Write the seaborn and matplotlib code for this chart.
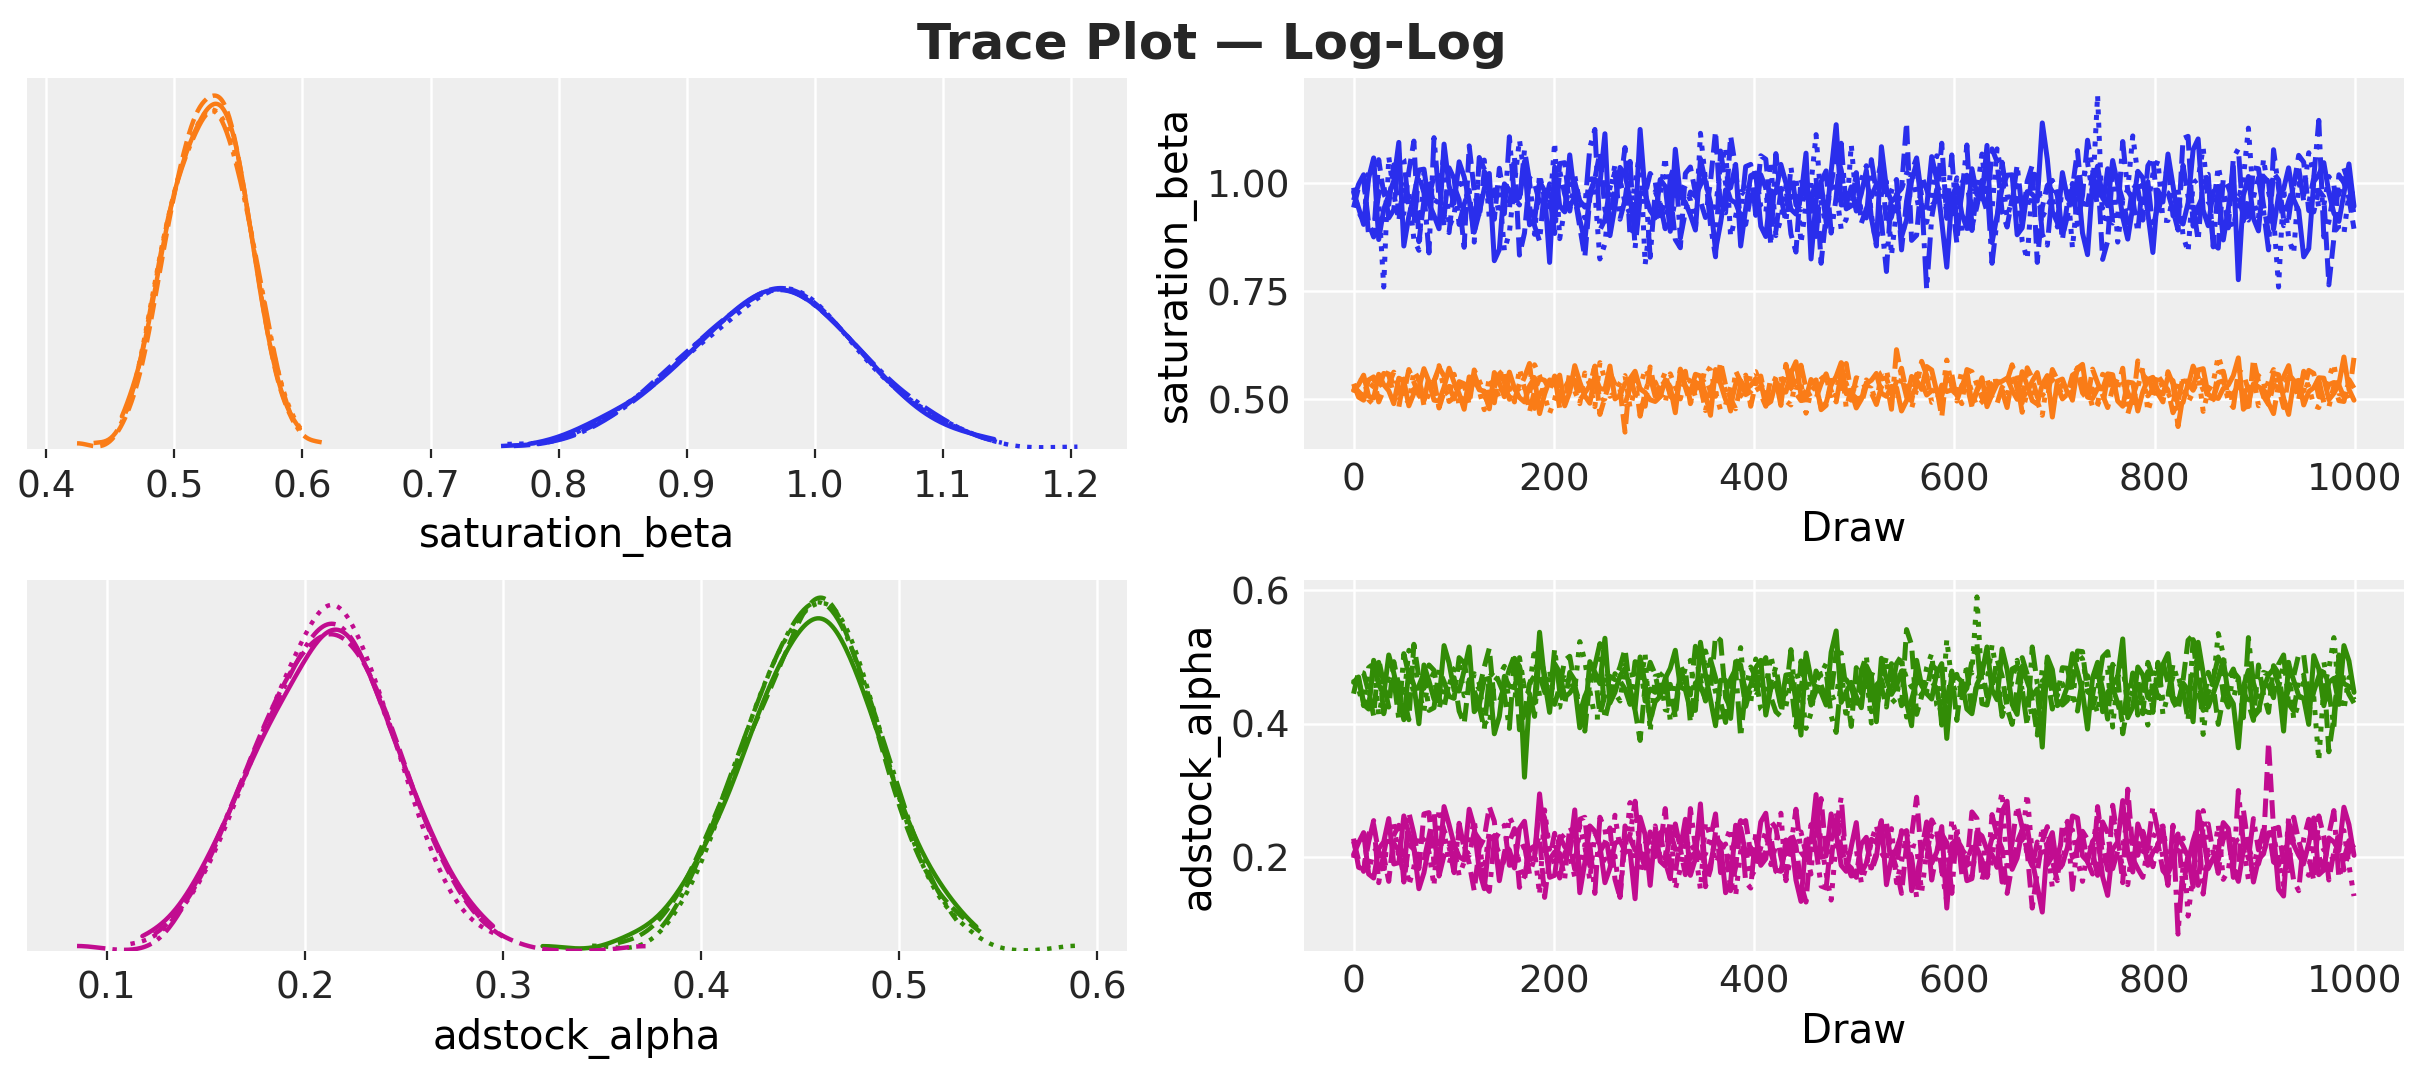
import numpy as np
import pandas as pd
import matplotlib
matplotlib.use("Agg")
import matplotlib.pyplot as plt
from matplotlib.ticker import MultipleLocator
import seaborn as sns

# ---------------- data (thinned posterior draws, in thousandths) ----------------
# saturation_beta, channel 1 (blue), chains 1-4
sb_blue_1 = [980, 943, 905, 1012, 1059, 870, 940, 973, 1006, 1095, 855, 924, 971, 1031, 1033, 953, 926, 895, 1091, 994,
             954, 1050, 1015, 960, 887, 932, 988, 1023, 821, 847, 999, 985, 961, 967, 1051, 904, 915, 1004, 983, 817,
             1038, 948, 934, 1066, 968, 916, 866, 979, 1010, 998, 1115, 879, 947, 1037, 1021, 962, 899, 1125, 975, 937,
             920, 1009, 993, 889, 1079, 971, 956, 927, 892, 1057, 1004, 956, 845, 908, 985, 990, 1044, 855, 942, 1018,
             1024, 901, 877, 983, 978, 1044, 1001, 940, 929, 968, 1070, 825, 962, 1001, 910, 1027, 1136, 950, 951, 992,
             936, 976, 1030, 920, 859, 1085, 989, 958, 970, 876, 916, 1006, 1048, 944, 945, 1062, 1009, 912, 806, 969,
             996, 929, 896, 1034, 974, 964, 1088, 863, 925, 989, 1019, 1020, 881, 897, 981, 975, 959, 1140, 1056, 935,
             909, 1025, 966, 952, 1013, 885, 835, 1000, 1040, 966, 949, 1053, 998, 922, 871, 946, 1028, 1013, 931, 840,
             984, 957, 1068, 995, 917, 906, 955, 1078, 1103, 938, 902, 981, 991, 869, 941, 1039, 777, 972, 1016, 919,
             890, 1016, 1003, 894, 973, 987, 1036, 963, 937, 830, 849, 1004, 1020, 1048, 979, 931, 912, 977, 1045, 947]
sb_blue_2 = [944, 991, 1009, 907, 876, 1055, 976, 951, 1043, 928, 930, 1028, 1098, 865, 960, 970, 1016, 1006, 900, 886,
             994, 962, 852, 1087, 983, 919, 1028, 982, 917, 1035, 964, 941, 1063, 834, 885, 1013, 1000, 956, 950, 999,
             911, 1046, 1048, 946, 969, 899, 829, 967, 1011, 1072, 939, 913, 989, 994, 1083, 877, 894, 978, 974, 1023,
             1004, 925, 957, 980, 870, 851, 1023, 1038, 979, 959, 921, 1004, 1121, 937, 932, 1110, 1036, 904, 905, 973,
             947, 1064, 1056, 930, 889, 985, 990, 883, 841, 1009, 968, 954, 1014, 815, 927, 996, 1073, 1031, 955, 942,
             1025, 908, 941, 969, 998, 1051, 904, 922, 975, 988, 1141, 868, 880, 1017, 986, 949, 961, 1093, 919, 964,
             862, 1002, 1019, 891, 981, 975, 935, 1080, 1050, 935, 899, 966, 965, 906, 1005, 1042, 817, 945, 995, 1007,
             971, 877, 924, 990, 1076, 953, 951, 1020, 1030, 824, 866, 1032, 1001, 961, 909, 997, 988, 915, 1041, 1060,
             931, 983, 978, 938, 892, 1104, 1109, 901, 946, 972, 1010, 860, 850, 1011, 991, 957, 970, 926, 915, 1036,
             1034, 950, 886, 1025, 1008, 918, 959, 993, 1065, 1049, 937, 934, 984, 968, 765, 873, 1020, 1001, 966, 895]
sb_blue_3 = [990, 934, 912, 1029, 1038, 957, 760, 1062, 976, 913, 1006, 979, 870, 845, 1025, 1003, 949, 968, 1074, 898,
             927, 1014, 984, 963, 896, 1048, 1054, 920, 960, 986, 844, 887, 998, 1101, 1014, 948, 882, 1021, 966, 936,
             1095, 872, 941, 995, 1018, 954, 920, 1025, 980, 825, 860, 974, 1044, 1009, 955, 929, 1001, 1077, 812, 910,
             906, 972, 1061, 902, 962, 993, 988, 961, 890, 1116, 1009, 941, 946, 1036, 1084, 877, 924, 981, 973, 1005,
             1031, 946, 932, 1050, 879, 917, 993, 967, 1015, 861, 951, 999, 1113, 956, 900, 1024, 983, 894, 917, 1090,
             956, 1008, 1041, 928, 855, 975, 1004, 833, 940, 987, 1023, 1033, 969, 909, 910, 966, 1064, 1055, 934, 951,
             1013, 890, 885, 983, 979, 1068, 964, 938, 1080, 1016, 921, 964, 995, 866, 824, 998, 1028, 922, 945, 971,
             899, 991, 999, 850, 974, 1004, 1048, 976, 1205, 905, 929, 1044, 864, 960, 986, 1110, 1020, 931, 952, 1022,
             1053, 915, 914, 970, 989, 879, 841, 1001, 1010, 1083, 957, 944, 1039, 980, 936, 897, 961, 1012, 1128, 962,
             919, 1057, 981, 925, 760, 989, 874, 837, 1000, 973, 1071, 1026, 942, 949, 1016, 996, 892, 883, 978, 984]
sb_blue_4 = [961, 998, 1020, 878, 891, 977, 996, 920, 939, 1071, 1055, 945, 907, 1019, 978, 839, 1106, 967, 922, 1036,
             1011, 905, 952, 984, 864, 1060, 1033, 958, 985, 927, 930, 1108, 965, 950, 1078, 1005, 902, 866, 991, 973,
             884, 1029, 975, 936, 1003, 960, 945, 1083, 1125, 892, 916, 990, 1026, 917, 962, 1051, 850, 966, 1008, 829,
             981, 953, 895, 1012, 1049, 873, 934, 980, 970, 996, 1018, 904, 830, 1075, 999, 962, 955, 924, 1039, 1044,
             926, 1020, 989, 857, 1069, 971, 910, 1038, 950, 939, 995, 963, 877, 1004, 1029, 885, 968, 1093, 941, 948,
             1023, 931, 920, 1055, 979, 912, 796, 983, 1009, 846, 959, 1027, 1059, 969, 755, 921, 986, 992, 931, 1066,
             900, 975, 1089, 899, 947, 1007, 1001, 815, 914, 1049, 973, 956, 1043, 934, 936, 1022, 1015, 882, 857, 986,
             994, 869, 956, 1000, 905, 972, 1100, 1031, 942, 943, 1034, 908, 924, 1097, 983, 964, 887, 1010, 1004, 895,
             951, 988, 1046, 925, 929, 1042, 969, 951, 867, 1016, 1021, 853, 993, 978, 897, 1059, 1080, 913, 964, 968,
             1013, 937, 846, 1078, 988, 902, 919, 1002, 1036, 959, 954, 1013, 1146, 876, 911, 981, 974, 1035, 998, 928]

# saturation_beta, channel 2 (orange), chains 1-4
sb_orange_1 = [521, 534, 556, 507, 503, 558, 534, 520, 490, 549, 543, 485, 514, 527, 571, 541, 498, 496, 528, 572,
               539, 513, 477, 552, 547, 522, 519, 478, 562, 538, 506, 563, 526, 504, 494, 531, 550, 467, 512, 545,
               533, 556, 485, 517, 578, 540, 508, 491, 554, 525, 523, 577, 501, 509, 537, 548, 565, 524, 516, 499,
               495, 506, 545, 529, 469, 567, 531, 515, 558, 554, 510, 463, 569, 536, 499, 488, 535, 543, 524, 532,
               548, 539, 487, 495, 541, 526, 517, 561, 587, 510, 504, 546, 530, 481, 492, 533, 553, 585, 513, 519,
               480, 500, 538, 544, 560, 514, 507, 530, 527, 473, 497, 553, 544, 523, 576, 568, 518, 508, 551, 537,
               509, 528, 564, 489, 522, 550, 483, 511, 536, 542, 549, 521, 500, 564, 532, 497, 489, 535, 555, 459,
               542, 547, 515, 516, 572, 581, 505, 502, 525, 524, 559, 557, 496, 484, 540, 538, 473, 518, 546, 551,
               520, 512, 552, 543, 486, 493, 537, 531, 568, 571, 511, 505, 502, 525, 533, 555, 596, 477, 493, 536,
               529, 522, 508, 560, 557, 503, 465, 540, 544, 487, 518, 527, 550, 549, 499, 514, 535, 598, 523, 498]
sb_orange_2 = [531, 518, 506, 545, 552, 494, 522, 535, 563, 523, 513, 569, 540, 509, 495, 553, 546, 480, 517, 530,
               501, 541, 536, 502, 559, 526, 509, 487, 527, 559, 570, 516, 498, 537, 534, 471, 520, 548, 544, 521,
               554, 511, 489, 563, 538, 498, 515, 532, 577, 465, 504, 543, 529, 524, 424, 555, 511, 506, 484, 575,
               518, 529, 542, 514, 492, 551, 565, 490, 524, 539, 548, 519, 507, 587, 533, 501, 478, 534, 556, 484,
               537, 554, 499, 508, 528, 522, 561, 566, 514, 497, 521, 536, 545, 476, 486, 544, 539, 525, 583, 513,
               503, 489, 532, 531, 551, 547, 550, 512, 541, 572, 516, 496, 558, 540, 510, 520, 526, 459, 568, 558,
               496, 533, 535, 483, 519, 542, 547, 505, 490, 528, 543, 580, 523, 492, 573, 549, 505, 517, 553, 538,
               530, 501, 512, 556, 564, 515, 500, 570, 538, 510, 481, 525, 549, 546, 517, 486, 589, 561, 508, 524,
               555, 537, 522, 469, 494, 552, 536, 521, 544, 543, 502, 499, 562, 565, 513, 513, 532, 527, 470, 593,
               541, 507, 488, 534, 527, 481, 552, 550, 516, 519, 567, 560, 506, 504, 534, 539, 497, 495, 546, 526]
sb_orange_3 = [516, 540, 549, 499, 488, 531, 539, 565, 528, 516, 505, 492, 566, 546, 497, 523, 535, 578, 523, 508,
               558, 485, 511, 536, 544, 520, 476, 552, 532, 503, 553, 528, 494, 571, 525, 512, 580, 555, 508, 468,
               500, 544, 537, 524, 519, 490, 561, 533, 483, 585, 546, 507, 514, 538, 555, 481, 524, 526, 571, 550,
               540, 514, 492, 559, 529, 501, 551, 542, 506, 522, 575, 568, 517, 475, 487, 530, 543, 510, 501, 561,
               564, 532, 521, 506, 536, 553, 496, 487, 548, 537, 468, 519, 533, 547, 557, 495, 512, 590, 480, 524,
               527, 497, 545, 527, 490, 562, 568, 511, 509, 549, 538, 479, 522, 534, 552, 556, 499, 504, 591, 529,
               513, 567, 556, 515, 484, 494, 530, 541, 542, 521, 503, 576, 562, 502, 518, 525, 495, 463, 547, 545,
               534, 509, 507, 551, 573, 535, 524, 483, 489, 558, 550, 518, 539, 543, 498, 498, 528, 573, 472, 513,
               554, 526, 515, 491, 541, 548, 493, 516, 565, 472, 520, 539, 600, 563, 504, 505, 536, 531, 510, 554,
               485, 500, 543, 569, 523, 518, 559, 544, 502, 536, 531, 486, 481, 528, 551, 582, 513, 511, 538, 523]
sb_orange_4 = [536, 505, 498, 538, 529, 524, 560, 557, 509, 482, 547, 532, 520, 550, 486, 513, 542, 574, 554, 495,
               504, 528, 533, 488, 568, 543, 515, 517, 492, 566, 539, 500, 526, 525, 551, 583, 479, 510, 531, 535,
               557, 479, 512, 547, 544, 521, 522, 539, 575, 496, 501, 562, 535, 514, 489, 527, 548, 461, 517, 552,
               507, 534, 563, 507, 496, 570, 528, 491, 540, 531, 474, 523, 552, 555, 519, 473, 566, 541, 511, 518,
               532, 512, 484, 551, 546, 486, 581, 526, 514, 579, 525, 504, 502, 536, 559, 520, 494, 560, 537, 498,
               550, 545, 523, 515, 488, 529, 541, 477, 615, 553, 506, 509, 530, 588, 556, 493, 499, 533, 518, 522,
               510, 490, 569, 564, 534, 503, 495, 537, 549, 519, 481, 549, 538, 470, 516, 542, 562, 511, 503, 569,
               545, 530, 524, 498, 572, 556, 508, 524, 490, 485, 553, 540, 527, 572, 466, 506, 543, 546, 558, 516,
               513, 494, 564, 535, 437, 509, 531, 577, 551, 522, 505, 501, 539, 543, 497, 481, 567, 559, 521, 525,
               555, 539, 491, 467, 535, 552, 578, 513, 500, 565, 526, 524, 546, 492, 482, 531, 533, 505, 509, 596]

# adstock_alpha, channel 1 (green), chains 1-4
aa_green_1 = [462, 470, 429, 422, 495, 459, 443, 503, 476, 443, 406, 480, 458, 400, 488, 464, 437, 434, 517, 491,
              450, 449, 480, 515, 418, 428, 466, 468, 385, 411, 471, 456, 454, 485, 320, 439, 431, 537, 464, 417,
              490, 477, 440, 446, 457, 394, 408, 493, 477, 460, 528, 431, 447, 472, 483, 452, 423, 500, 460, 405,
              433, 441, 468, 483, 510, 455, 451, 420, 420, 522, 474, 436, 397, 465, 465, 408, 493, 488, 444, 458,
              484, 495, 413, 453, 461, 426, 473, 474, 438, 383, 506, 467, 453, 447, 428, 507, 539, 432, 448, 462,
              441, 424, 487, 471, 403, 498, 467, 444, 457, 479, 432, 397, 495, 457, 445, 437, 476, 490, 378, 466,
              470, 463, 422, 415, 459, 475, 515, 451, 436, 512, 481, 429, 414, 486, 463, 442, 452, 365, 500, 481,
              427, 435, 456, 505, 478, 448, 392, 469, 492, 418, 447, 458, 471, 527, 409, 425, 485, 473, 439, 454,
              464, 489, 505, 440, 432, 461, 450, 403, 522, 476, 425, 445, 468, 496, 443, 430, 364, 456, 480, 410,
              419, 452, 473, 482, 458, 389, 490, 465, 442, 438, 399, 502, 482, 427, 462, 468, 429, 517, 494, 447]
aa_green_2 = [445, 478, 476, 447, 412, 496, 460, 425, 493, 457, 438, 406, 519, 469, 453, 488, 480, 438, 424, 462,
              469, 419, 400, 466, 463, 452, 485, 513, 432, 433, 455, 482, 502, 391, 416, 460, 472, 473, 448, 443,
              429, 456, 495, 501, 457, 429, 389, 464, 477, 414, 442, 471, 466, 485, 512, 450, 420, 375, 459, 492,
              474, 437, 451, 459, 409, 480, 483, 402, 461, 467, 434, 448, 531, 525, 439, 423, 489, 475, 426, 453,
              447, 486, 499, 440, 418, 411, 467, 461, 395, 494, 456, 431, 479, 458, 437, 445, 507, 506, 450, 396,
              484, 446, 444, 474, 471, 455, 425, 490, 460, 427, 541, 518, 414, 441, 465, 463, 453, 408, 433, 479,
              405, 468, 481, 417, 463, 483, 441, 454, 496, 472, 423, 399, 455, 499, 474, 435, 383, 464, 470, 422,
              458, 428, 435, 461, 509, 508, 448, 442, 486, 451, 407, 489, 473, 385, 428, 476, 466, 415, 492, 470,
              439, 493, 461, 434, 420, 465, 525, 533, 446, 420, 477, 457, 399, 439, 468, 482, 457, 449, 431, 405,
              488, 444, 417, 487, 475, 426, 452, 471, 504, 503, 442, 452, 464, 477, 358, 410, 482, 460, 456, 436]
aa_green_3 = [467, 451, 427, 484, 490, 413, 449, 467, 458, 436, 436, 510, 501, 448, 419, 476, 472, 422, 454, 457,
              482, 491, 442, 444, 475, 461, 403, 397, 463, 472, 486, 429, 431, 499, 453, 454, 513, 440, 440, 480,
              425, 425, 469, 464, 451, 523, 494, 449, 410, 410, 478, 469, 446, 434, 488, 487, 454, 458, 504, 388,
              471, 473, 421, 419, 460, 456, 483, 495, 435, 442, 509, 479, 448, 405, 415, 462, 474, 514, 430, 432,
              497, 447, 452, 502, 466, 427, 426, 466, 479, 453, 393, 416, 464, 475, 490, 438, 441, 486, 407, 459,
              457, 481, 476, 401, 417, 470, 500, 431, 438, 492, 468, 455, 450, 443, 484, 505, 428, 418, 526, 463,
              443, 439, 488, 476, 590, 454, 461, 518, 473, 424, 432, 465, 495, 450, 447, 409, 422, 482, 478, 446,
              465, 460, 436, 430, 506, 497, 453, 441, 416, 474, 481, 395, 470, 488, 427, 452, 459, 435, 398, 468,
              486, 414, 444, 471, 472, 445, 420, 483, 498, 384, 449, 461, 535, 504, 433, 437, 467, 466, 439, 428,
              411, 477, 474, 453, 454, 490, 492, 407, 431, 464, 462, 440, 345, 455, 482, 529, 442, 421, 469, 472]
aa_green_4 = [459, 465, 433, 432, 484, 492, 415, 450, 468, 407, 505, 473, 446, 457, 476, 420, 424, 481, 463, 441,
              438, 499, 491, 454, 450, 426, 392, 470, 479, 461, 443, 393, 498, 486, 456, 445, 411, 507, 473, 435,
              512, 448, 429, 477, 465, 415, 441, 458, 487, 520, 407, 438, 475, 464, 452, 429, 493, 490, 434, 452,
              447, 472, 480, 404, 420, 483, 461, 443, 516, 456, 437, 496, 469, 433, 402, 467, 482, 380, 454, 485,
              470, 422, 416, 462, 485, 440, 445, 511, 430, 453, 499, 428, 449, 475, 477, 412, 387, 468, 466, 455,
              426, 479, 502, 418, 458, 466, 439, 449, 490, 502, 410, 436, 464, 459, 448, 488, 481, 398, 422, 471,
              474, 443, 453, 494, 521, 430, 428, 463, 467, 411, 435, 482, 486, 452, 397, 515, 460, 439, 496, 460,
              442, 484, 483, 446, 419, 469, 472, 424, 451, 500, 508, 454, 431, 402, 455, 474, 413, 457, 478, 417,
              492, 434, 440, 489, 463, 451, 405, 526, 476, 427, 446, 467, 500, 444, 425, 478, 469, 409, 529, 461,
              436, 458, 457, 439, 489, 503, 430, 419, 465, 473, 417, 448, 471, 493, 449, 395, 503, 464, 444, 431]

# adstock_alpha, channel 2 (magenta), chains 1-4
aa_pink_1 = [204, 222, 237, 175, 169, 213, 223, 258, 190, 192, 262, 236, 214, 153, 177, 217, 228, 186, 276, 249,
             219, 201, 196, 272, 245, 180, 153, 226, 232, 165, 207, 211, 184, 243, 254, 196, 200, 295, 225, 170,
             173, 231, 216, 206, 271, 147, 192, 247, 239, 218, 162, 184, 221, 225, 209, 209, 138, 260, 234, 158,
             241, 194, 187, 239, 212, 212, 257, 173, 198, 280, 175, 190, 229, 221, 147, 162, 248, 244, 205, 215,
             195, 253, 266, 207, 181, 179, 218, 229, 166, 134, 226, 223, 294, 200, 202, 265, 235, 188, 179, 216,
             252, 177, 191, 227, 222, 255, 159, 198, 213, 235, 240, 150, 171, 210, 231, 191, 208, 246, 124, 220,
             227, 214, 165, 168, 238, 232, 211, 204, 185, 269, 284, 182, 199, 241, 246, 195, 157, 118, 220, 237,
             180, 189, 215, 262, 259, 202, 194, 224, 233, 171, 143, 212, 223, 285, 206, 178, 250, 228, 188, 208,
             217, 245, 176, 193, 230, 217, 201, 156, 268, 233, 183, 199, 209, 252, 243, 183, 164, 210, 224, 163,
             197, 205, 236, 238, 152, 142, 253, 219, 203, 191, 221, 259, 174, 181, 229, 223, 210, 275, 249, 203]
aa_pink_2 = [224, 196, 179, 235, 249, 207, 202, 164, 233, 248, 163, 219, 212, 183, 265, 267, 191, 202, 240, 226,
             186, 240, 218, 191, 150, 214, 229, 276, 254, 174, 197, 223, 243, 155, 172, 211, 215, 232, 140, 199,
             236, 169, 206, 220, 182, 257, 260, 187, 194, 208, 222, 244, 167, 140, 247, 228, 211, 203, 189, 238,
             201, 216, 273, 177, 176, 230, 227, 198, 208, 262, 156, 182, 238, 213, 220, 150, 185, 250, 255, 205,
             230, 188, 198, 254, 244, 201, 169, 237, 217, 160, 133, 225, 234, 288, 204, 193, 268, 212, 192, 172,
             174, 221, 226, 184, 207, 245, 251, 209, 183, 146, 219, 233, 290, 197, 195, 256, 241, 179, 162, 217,
             214, 204, 188, 268, 258, 166, 199, 229, 232, 213, 146, 189, 223, 241, 209, 124, 178, 224, 246, 194,
             165, 250, 237, 200, 210, 234, 193, 175, 276, 219, 181, 278, 228, 162, 302, 210, 203, 239, 213, 186,
             221, 180, 171, 224, 235, 153, 205, 215, 158, 246, 250, 206, 196, 227, 239, 170, 184, 271, 216, 192,
             190, 218, 372, 242, 245, 190, 180, 260, 225, 198, 201, 165, 262, 231, 166, 208, 231, 181, 209, 222]
aa_pink_3 = [199, 228, 232, 181, 208, 216, 174, 251, 251, 199, 219, 158, 185, 234, 226, 208, 157, 273, 240, 190,
             215, 173, 193, 219, 256, 195, 181, 240, 222, 206, 203, 261, 244, 185, 166, 223, 211, 144, 271, 211,
             189, 236, 228, 202, 171, 248, 217, 166, 236, 225, 196, 191, 263, 213, 207, 282, 179, 177, 221, 217,
             247, 198, 201, 255, 152, 183, 234, 220, 209, 152, 253, 231, 191, 205, 224, 244, 142, 209, 213, 170,
             183, 215, 239, 189, 218, 266, 165, 201, 229, 238, 205, 175, 281, 222, 176, 136, 223, 252, 198, 210,
             212, 162, 187, 224, 248, 207, 194, 243, 162, 193, 235, 218, 216, 148, 208, 232, 242, 180, 134, 257,
             231, 212, 202, 171, 225, 237, 170, 197, 257, 298, 182, 186, 220, 226, 295, 204, 191, 246, 214, 155,
             175, 191, 238, 241, 197, 164, 210, 214, 266, 200, 186, 263, 227, 182, 159, 221, 219, 209, 204, 230,
             243, 247, 192, 204, 213, 229, 112, 176, 230, 270, 200, 195, 249, 167, 180, 235, 222, 218, 167, 187,
             217, 207, 234, 233, 195, 158, 260, 223, 206, 184, 173, 250, 228, 211, 209, 194, 241, 240, 188, 142]
aa_pink_4 = [228, 185, 182, 223, 255, 162, 206, 242, 221, 210, 171, 267, 235, 194, 195, 231, 269, 172, 203, 216,
             177, 251, 213, 203, 238, 227, 160, 149, 225, 238, 248, 188, 190, 214, 217, 175, 199, 279, 259, 197,
             208, 206, 168, 246, 231, 182, 219, 219, 146, 260, 242, 192, 202, 140, 224, 234, 284, 209, 184, 224,
             220, 237, 193, 168, 250, 213, 174, 273, 215, 199, 205, 229, 265, 177, 187, 204, 229, 255, 163, 154,
             236, 195, 209, 232, 179, 173, 226, 218, 272, 208, 197, 249, 212, 157, 154, 226, 245, 290, 191, 184,
             170, 220, 230, 179, 201, 257, 240, 190, 186, 240, 218, 201, 140, 211, 253, 166, 207, 235, 222, 146,
             246, 174, 196, 215, 214, 196, 164, 264, 233, 163, 180, 222, 277, 245, 204, 187, 223, 212, 189, 202,
             200, 230, 254, 152, 222, 239, 227, 207, 173, 253, 237, 183, 209, 217, 262, 198, 183, 170, 216, 276,
             239, 200, 158, 248, 85, 188, 194, 225, 249, 145, 206, 211, 176, 236, 231, 176, 300, 221, 198, 258,
             211, 243, 244, 193, 188, 218, 218, 165, 150, 228, 257, 205, 202, 181, 234, 270, 169, 197, 225, 214]

draw_index = np.linspace(0, 999, 200)   # thinned draw positions
chain_names = ["chain 0", "chain 1", "chain 2", "chain 3"]
var_names = ["saturation_beta", "adstock_alpha"]
title_text = "Trace Plot \u2014 Log-Log"

# ---------------- long-form table ----------------
series = [
    ("saturation_beta", "blue", [sb_blue_1, sb_blue_2, sb_blue_3, sb_blue_4]),
    ("saturation_beta", "orange", [sb_orange_1, sb_orange_2, sb_orange_3, sb_orange_4]),
    ("adstock_alpha", "green", [aa_green_1, aa_green_2, aa_green_3, aa_green_4]),
    ("adstock_alpha", "magenta", [aa_pink_1, aa_pink_2, aa_pink_3, aa_pink_4]),
]
rows = []
for var, chan, chains in series:
    for ci, vals in enumerate(chains):
        for d, v in zip(draw_index, vals):
            rows.append((var, chan, chain_names[ci], d, v / 1000.0))
df = pd.DataFrame(rows, columns=["var", "channel", "chain", "draw", "value"])

colors = {"blue": "#2a2eec", "orange": "#fa7c17", "green": "#328c06", "magenta": "#c10c90"}
linestyles = {"chain 0": "-", "chain 1": "--", "chain 2": ":", "chain 3": "-."}

# ---------------- style ----------------
sns.set_theme(style="darkgrid", rc={
    "axes.facecolor": "#eeeeee",
    "grid.color": "white",
    "grid.linewidth": 0.9,
    "axes.edgecolor": "white",
    "axes.linewidth": 0,
    "xtick.color": "#262626",
    "ytick.color": "#262626",
    "axes.labelcolor": "black",
})
plt.rcParams["font.family"] = ["DejaVu Sans"]

fig, axes = plt.subplots(2, 2, figsize=(2423 / 200, 1081 / 200), dpi=200)
fig.subplots_adjust(left=0.01114, right=0.99216, top=0.92784, bottom=0.12026,
                    wspace=0.16, hspace=0.353)

tick_fs = 13.5
label_fs = 14.5
lw_kde = 1.6
lw_trace = 1.8

for r, var in enumerate(var_names):
    ax_k = axes[r, 0]
    ax_t = axes[r, 1]
    sub = df[df["var"] == var]
    for (chan, chain), g in sub.groupby(["channel", "chain"], sort=False):
        sns.kdeplot(x=g["value"].to_numpy(), ax=ax_k, color=colors[chan],
                    linestyle=linestyles[chain], linewidth=lw_kde, cut=0)
        sns.lineplot(x=g["draw"].to_numpy(), y=g["value"].to_numpy(), ax=ax_t,
                     color=colors[chan], linestyle=linestyles[chain],
                     linewidth=lw_trace, estimator=None)
    # KDE panel
    ax_k.set_yticks([])
    ax_k.set_ylabel("")
    ax_k.set_xlabel(var, fontsize=label_fs)
    ax_k.xaxis.set_major_locator(MultipleLocator(0.1))
    ax_k.tick_params(axis="x", labelsize=tick_fs, length=3.2, width=0.8,
                     color="#262626", pad=4, bottom=True)
    ax_k.grid(axis="y", visible=False)
    # trace panel
    ax_t.set_xlabel("Draw", fontsize=label_fs)
    ax_t.set_ylabel(var, fontsize=label_fs)
    ax_t.xaxis.set_major_locator(MultipleLocator(200))
    ax_t.yaxis.set_major_locator(MultipleLocator(0.25 if r == 0 else 0.2))
    ax_t.tick_params(axis="both", labelsize=tick_fs, length=0, pad=4.7)

fig.suptitle(title_text, fontsize=18, fontweight="bold", color="#262626",
             y=1 - 59 / 1081, va="baseline")

fig.savefig("out.png", dpi=200)
